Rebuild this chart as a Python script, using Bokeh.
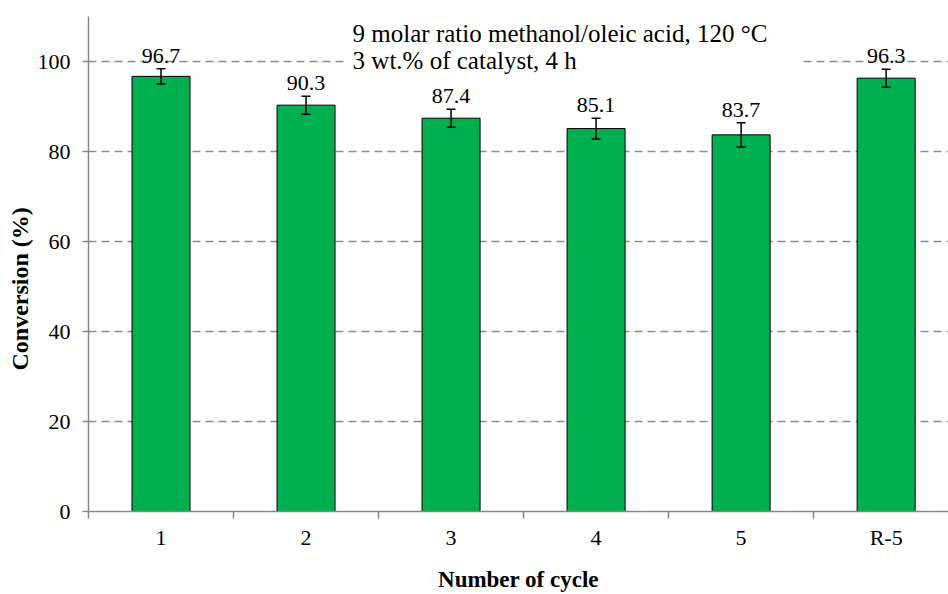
from bokeh.plotting import figure
from bokeh.models import (ColumnDataSource, Range1d, FixedTicker, Whisker, TeeHead,
                          BoxAnnotation, Label, Title)
from bokeh.core.properties import value
from bokeh.embed import file_html
from bokeh.resources import INLINE

# Catalyst reuse: methyl oleate conversion per cycle
cycles = ["1", "2", "3", "4", "5", "R-5"]
conversion = [96.7, 90.3, 87.4, 85.1, 83.7, 96.3]
error = [1.7, 2.0, 2.0, 2.3, 2.7, 2.0]
y_ticks = [0, 20, 40, 60, 80, 100]
note_lines = ["9 molar ratio methanol/oleic acid, 120 \u00b0C", "3 wt.% of catalyst, 4 h"]

FONT = "Liberation Serif"
FS = "22px"
FS_NOTE = "25px"
FS_XLAB = "23px"
FS_YLAB = "24px"

centers = [i + 0.5 for i in range(len(cycles))]
src = ColumnDataSource(dict(
    x=centers,
    top=conversion,
    upper=[c + e for c, e in zip(conversion, error)],
    lower=[c - e for c, e in zip(conversion, error)],
    label=[f"{c:.1f}" for c in conversion],
))

p = figure(width=948, height=594, output_backend="svg", toolbar_location=None,
           x_range=Range1d(0, 5.93), y_range=Range1d(0, 110),
           min_border_left=88, min_border_right=0, min_border_top=16, min_border_bottom=81)
p.outline_line_color = None
p.background_fill_color = "white"

# grid
p.xgrid.grid_line_color = None
p.ygrid.ticker = FixedTicker(ticks=y_ticks[1:])
p.ygrid.grid_line_color = "#8c8c8c"
p.ygrid.grid_line_width = 1.5
p.ygrid.grid_line_dash = "8 5"

# bars
p.vbar(x="x", top="top", width=0.4, source=src, fill_color="#00B050",
       line_color="black", line_width=1)

# error bars
whisk = Whisker(base="x", upper="upper", lower="lower", source=src,
                line_color="black", line_width=1.5, level="annotation",
                upper_head=TeeHead(size=9, line_color="black", line_width=1.5),
                lower_head=TeeHead(size=9, line_color="black", line_width=1.5))
p.add_layout(whisk)

# value labels
p.text(x="x", y="upper", text="label", source=src, text_align="center",
       text_baseline="alphabetic", y_offset=-13, text_font=value(FONT),
       text_font_size=FS, text_color="black")

# note with white backing over the gridline
p.add_layout(BoxAnnotation(left=1.77, right=4.91, bottom=99.4, top=110,
                           fill_color="white", fill_alpha=1, line_color=None))
for txt, yv in zip(note_lines, [106.3, 100.3]):
    p.add_layout(Label(x=1.821, y=yv, text=txt, text_font=FONT, text_font_size=FS_NOTE,
                       text_baseline="alphabetic", text_align="left", text_color="black"))

# axes
for ax in (p.xaxis[0], p.yaxis[0]):
    ax.axis_line_color = "#868686"
    ax.axis_line_width = 1.5
    ax.major_tick_line_color = "#868686"
    ax.minor_tick_line_color = "#868686"
    ax.major_tick_line_width = 1.5
    ax.minor_tick_line_width = 1.5
    ax.major_label_text_font = FONT
    ax.major_label_text_font_size = FS
    ax.major_label_text_color = "black"
    ax.axis_label_text_font = FONT
    ax.axis_label_text_font_size = FS_XLAB
    ax.axis_label_text_font_style = "bold"
    ax.axis_label_text_color = "black"

xa = p.xaxis[0]
xa.ticker = FixedTicker(ticks=centers, minor_ticks=list(range(len(cycles))))
xa.major_label_overrides = {c: lab for c, lab in zip(centers, cycles)}
xa.major_tick_in = 0
xa.major_tick_out = 0
xa.minor_tick_in = 0
xa.minor_tick_out = 7
xa.major_label_standoff = 6
xa.axis_label = "Number of cycle"
xa.axis_label_standoff = 14

ya = p.yaxis[0]
ya.ticker = FixedTicker(ticks=y_ticks)
ya.major_tick_in = 0
ya.major_tick_out = 6
ya.minor_tick_out = 0
ya.major_label_standoff = 12

# y-axis title on the left edge, started a little below the frame centre
p.add_layout(Title(text="Conversion (%)", align="left", offset=141, standoff=4,
                   text_font=FONT, text_font_size=FS_YLAB, text_font_style="bold",
                   text_color="black"), "left")

open("out.html", "w").write(file_html(p, INLINE))
